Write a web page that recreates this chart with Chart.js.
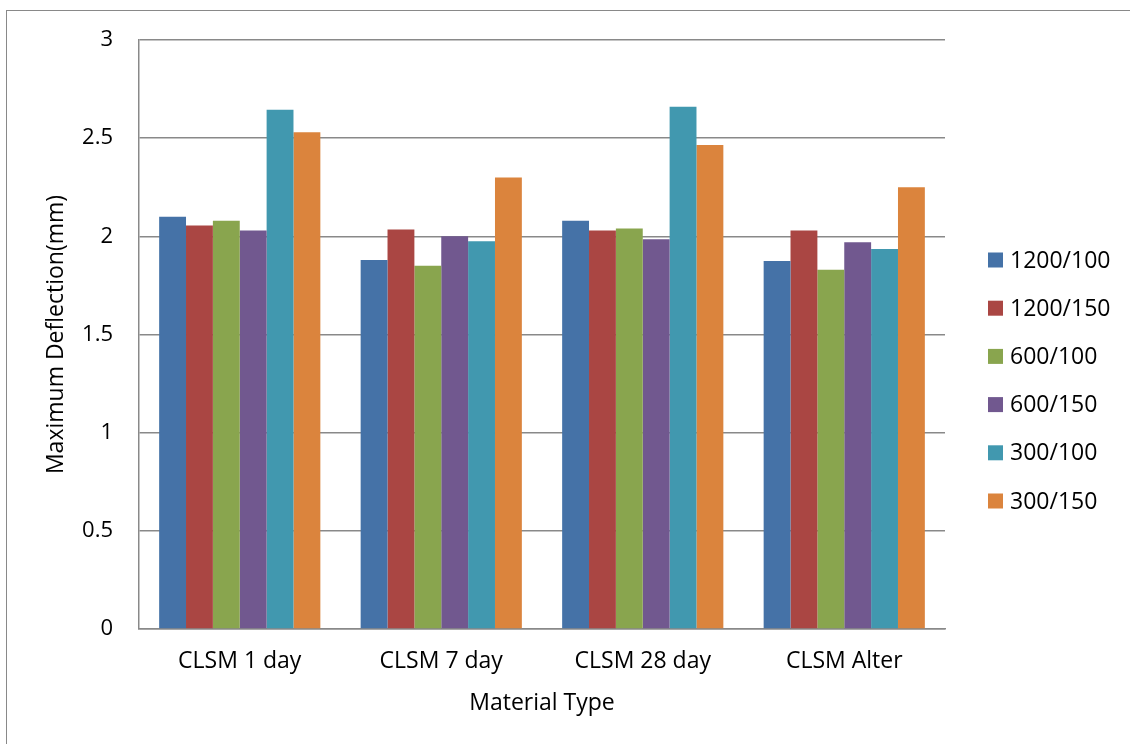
<!DOCTYPE html>
<html>
<head>
<meta charset="utf-8">
<script src="https://cdn.jsdelivr.net/npm/chart.js@4/dist/chart.umd.min.js"></script>
<style>
  html, body { margin: 0; padding: 0; background: #fff; overflow: hidden; }
  #frame { position: absolute; left: 6px; top: 10px; width: 1200px; height: 800px; border: 1.5px solid #898989; }
  #wrap { position: absolute; left: 0; top: 0; width: 1130px; height: 744px; }
</style>
</head>
<body>
<div id="frame"></div>
<div id="wrap"><canvas id="c" width="1130" height="744"></canvas></div>
<script>
const categories = ['CLSM 1 day', 'CLSM 7 day', 'CLSM 28 day', 'CLSM Alter'];
const seriesNames = ['1200/100', '1200/150', '600/100', '600/150', '300/100', '300/150'];
const s1200_100 = [2.10, 1.88, 2.08, 1.875];
const s1200_150 = [2.055, 2.035, 2.03, 2.03];
const s600_100  = [2.08, 1.85, 2.04, 1.83];
const s600_150  = [2.03, 2.00, 1.985, 1.97];
const s300_100  = [2.645, 1.975, 2.66, 1.935];
const s300_150  = [2.53, 2.30, 2.465, 2.25];
const seriesColors = ['#4572A7', '#AA4643', '#89A54E', '#71588F', '#4198AF', '#DB843D'];
const yTicks = [0, 0.5, 1, 1.5, 2, 2.5, 3];

const FONT = "'Open Sans', 'Liberation Sans', sans-serif";
const allSeries = [s1200_100, s1200_150, s600_100, s600_150, s300_100, s300_150];

const sideLegend = {
  id: 'sideLegend',
  afterDraw(chart) {
    const ctx = chart.ctx;
    ctx.save();
    ctx.font = "23px " + FONT;
    ctx.textBaseline = 'middle';
    ctx.textAlign = 'left';
    chart.data.datasets.forEach((ds, i) => {
      const cy = 260 + i * 48.2;
      ctx.fillStyle = ds.backgroundColor;
      ctx.fillRect(988, cy - 7.5, 15, 15);
      ctx.fillStyle = '#000';
      ctx.fillText(ds.label, 1010, cy + 1);
    });
    ctx.restore();
  }
};

new Chart(document.getElementById('c'), {
  type: 'bar',
  data: {
    labels: categories,
    datasets: seriesNames.map((n, i) => ({
      label: n,
      data: allSeries[i],
      backgroundColor: seriesColors[i],
      borderWidth: 0,
      categoryPercentage: 0.8,
      barPercentage: 1.0
    }))
  },
  options: {
    responsive: false,
    animation: false,
    devicePixelRatio: 1,
    layout: { padding: { top: 40, right: 185, left: 0, bottom: 0 } },
    plugins: { legend: { display: false }, tooltip: { enabled: false } },
    scales: {
      x: {
        grid: { display: false, drawTicks: false },
        border: { display: true, color: '#898989', width: 1.5 },
        ticks: { color: '#000', font: { family: FONT, size: 23 }, padding: 19, maxRotation: 0 },
        title: { display: true, text: 'Material Type', color: '#000', font: { family: FONT, size: 23 }, padding: { top: 0, bottom: 27 } },
        afterFit(scale) { scale.height = 115; }
      },
      y: {
        min: 0, max: 3,
        afterBuildTicks(scale) { scale.ticks = yTicks.map(v => ({ value: v })); },
        grid: { color: '#898989', lineWidth: 1.5, drawTicks: false },
        border: { display: true, color: '#898989', width: 1.5 },
        ticks: { color: '#000', font: { family: FONT, size: 22 }, padding: 26, callback: v => String(v) },
        title: { display: true, text: 'Maximum Deflection(mm)', color: '#000', font: { family: FONT, size: 23 }, padding: { top: 43, bottom: 0 } },
        afterFit(scale) { scale.width = 139; }
      }
    }
  },
  plugins: [sideLegend]
});
</script>
</body>
</html>
